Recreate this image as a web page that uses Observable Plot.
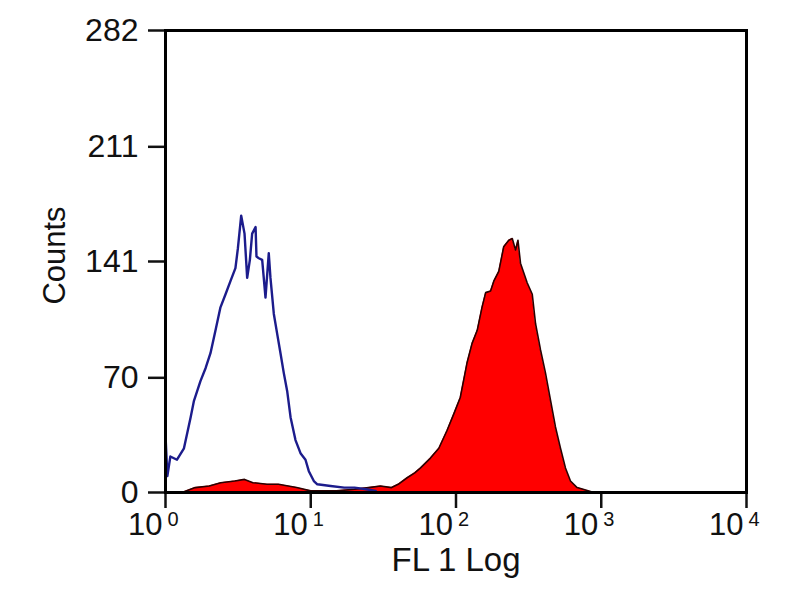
<!DOCTYPE html>
<html>
<head>
<meta charset="utf-8">
<script src="https://cdn.jsdelivr.net/npm/d3@7"></script>
<script src="https://cdn.jsdelivr.net/npm/@observablehq/plot@0.6"></script>
<style>
  html, body { margin: 0; padding: 0; background: #fff; }
  #chart { width: 800px; height: 600px; }
</style>
</head>
<body>
<div id="chart"></div>
<script>
// Isotype control (blue outline histogram)
const blueFL = [1.0, 1.0, 1.03, 1.08, 1.2, 1.34, 1.49, 1.57, 1.74, 1.89, 2.04, 2.21, 2.39, 2.59, 2.80, 3.03, 3.15, 3.32, 3.50, 3.65, 3.81, 3.95, 4.17, 4.23, 4.39, 4.63, 4.88, 5.14, 5.28, 5.57, 5.87, 6.19, 6.52, 6.88, 7.26, 7.85, 8.50, 9.20, 9.70, 10.5, 11.1, 13.7, 17, 20, 24, 28];
const blueCounts = [0, 35, 10, 22, 20, 27, 46, 56, 68, 76, 85, 99, 113, 121, 129, 137, 149, 169, 158, 131, 142, 158, 162, 144, 143, 142, 119, 146, 131, 109, 97, 85, 73, 62, 46, 32, 24, 20, 13, 7, 5, 4, 3, 3, 2, 1];

// Stained sample (red filled histogram)
const redFL = [1.3, 1.6, 2.0, 2.4, 3.0, 3.5, 4.0, 5.0, 6.0, 7.0, 8.0, 9.0, 10, 12, 15, 20, 25, 30.2, 36, 40, 46.1, 52, 57.0, 66.7, 76.2, 86.9, 96.6, 107, 119, 129, 140, 151, 160, 173, 182, 197, 213, 231, 244, 257, 267, 278, 309, 335, 353, 382, 413, 448, 484, 524, 567, 614, 682, 750, 889];
const redCounts = [0, 3, 4, 6, 7, 8, 6, 5, 5, 4, 3, 2, 1, 1, 1, 2, 3, 4, 3, 5, 9, 12, 15, 21, 27, 38, 48, 58, 79, 91, 99, 113, 122, 123, 129, 135, 150, 154, 155, 148, 154, 140, 128, 121, 103, 87, 73, 56, 40, 27, 15, 7, 3, 2, 0];

const xTickValues = [1, 10, 100, 1000, 10000];
const xTickBase = ["10", "10", "10", "10", "10"];
const xTickExponents = ["0", "1", "2", "3", "4"];
const yTickValues = [0, 70, 141, 211, 282];

const blue = blueFL.map((x, i) => ({x, y: blueCounts[i]}));
const red = redFL.map((x, i) => ({x, y: redCounts[i]}));
const xTicks = xTickValues.map((v, i) => ({v, base: xTickBase[i], exp: xTickExponents[i]}));

const chart = Plot.plot({
  width: 800,
  height: 600,
  marginLeft: 165,
  marginRight: 54,
  marginTop: 30,
  marginBottom: 108,
  style: {fontFamily: "'Liberation Sans', Arial, sans-serif", fontSize: "33px", background: "#fff", color: "#111"},
  x: {type: "log", domain: [1, 10000], axis: null},
  y: {domain: [0, 282], axis: null},
  marks: [
    Plot.areaY(red, {x: "x", y: "y", fill: "#ff0000"}),
    Plot.lineY(red, {x: "x", y: "y", stroke: "#2a0000", strokeWidth: 1.6}),
    Plot.lineY(blue, {x: "x", y: "y", stroke: "#1c1c8c", strokeWidth: 2.4}),
    Plot.axisX({ticks: xTickValues, tickSize: 16, tickFormat: () => "", label: null, strokeWidth: 2.5, stroke: "#111"}),
    Plot.axisY({ticks: yTickValues, tickSize: 17, tickPadding: 10, label: null, strokeWidth: 2.5, stroke: "#111", fontSize: 32, tickFormat: d => String(d)}),
    Plot.text(xTicks, {x: "v", frameAnchor: "bottom", dy: 42, dx: -3, text: "base", textAnchor: "end", fontSize: 31, fill: "#111"}),
    Plot.text(xTicks, {x: "v", frameAnchor: "bottom", dy: 33, dx: 2, text: "exp", textAnchor: "start", fontSize: 20, fill: "#111"}),
    Plot.text(["FL 1 Log"], {text: d => d, frameAnchor: "bottom", dy: 78, fontSize: 33, fill: "#111"}),
    Plot.text(["Counts"], {text: d => d, frameAnchor: "left", textAnchor: "middle", dx: -110, dy: -6, rotate: -90, fontSize: 31, fill: "#111"}),
    Plot.frame({stroke: "#000", strokeWidth: 3})
  ]
});
document.getElementById("chart").appendChild(chart);
</script>
</body>
</html>
